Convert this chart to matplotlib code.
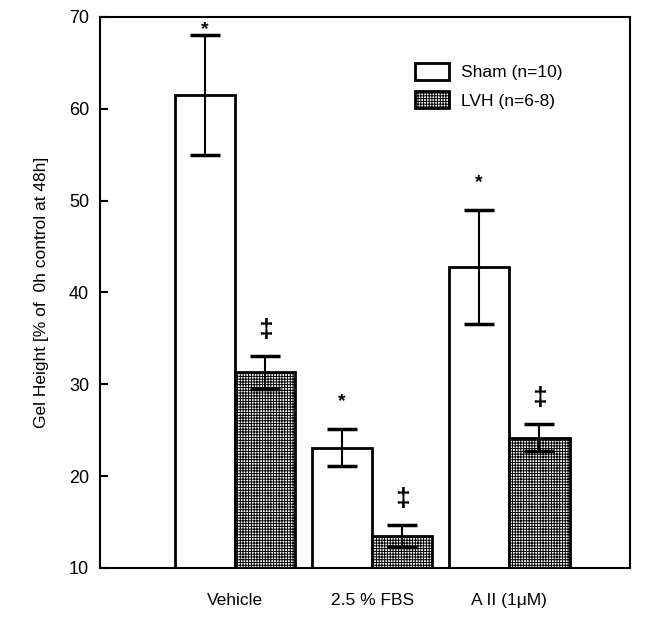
import numpy as np
import matplotlib.pyplot as plt

plt.rcParams['font.family'] = ['Liberation Sans', 'DejaVu Sans']
plt.rcParams['hatch.linewidth'] = 0.7

groups = ["Vehicle", "2.5 % FBS", "A II (1\u03bcM)"]
sham = [61.5, 23.1, 42.8]
sham_err = [6.5, 2.0, 6.2]
lvh = [31.3, 13.5, 24.2]
lvh_err = [1.8, 1.2, 1.5]
sham_mark = ["*", "*", "*"]
lvh_mark = ["\u2021", "\u2021", "\u2021"]

fig = plt.figure(figsize=(6.46, 6.18), dpi=100)
ax = fig.add_axes([0.155, 0.081, 0.82, 0.8915])

x = np.arange(len(groups))
w = 0.44

ax.bar(x - w / 2, sham, w, color="white", edgecolor="black",
       linewidth=2, label="Sham (n=10)", zorder=2)
ax.bar(x + w / 2, lvh, w, color="white", edgecolor="black", hatch="++++++",
       linewidth=2, label="LVH (n=6-8)", zorder=2)

ax.errorbar(x - w / 2, sham, yerr=sham_err, fmt="none", ecolor="black",
            elinewidth=1.5, capsize=11, capthick=2.5, zorder=3)
ax.errorbar(x + w / 2, lvh, yerr=lvh_err, fmt="none", ecolor="black",
            elinewidth=1.5, capsize=11, capthick=2.5, zorder=3)

# significance marks above the error bars (kept inside the frame)
for i in range(len(groups)):
    ys = min(sham[i] + sham_err[i] + 3.0, 68.6)
    ax.text(x[i] - w / 2, ys, sham_mark[i], ha="center", va="center",
            fontsize=14, fontweight="bold")
    ax.text(x[i] + w / 2, lvh[i] + lvh_err[i] + 2.8, lvh_mark[i],
            ha="center", va="center", fontsize=19, fontweight="bold")

ax.set_ylim(10, 70)
ax.set_xlim(-0.985, 2.88)
ax.set_yticks(range(10, 71, 10))
ax.tick_params(axis="y", direction="in", length=6, width=1.5, labelsize=13,
               pad=8)
ax.set_xticks(x)
ax.set_xticklabels(groups, fontsize=12.5)
ax.tick_params(axis="x", length=0, pad=18)
for s in ax.spines.values():
    s.set_linewidth(1.5)

ax.set_ylabel("Gel Height [% of  0h control at 48h]", fontsize=12.5,
              labelpad=14)

ax.legend(loc="upper left", bbox_to_anchor=(0.565, 0.945), frameon=False,
          fontsize=12.5, handlelength=1.95, handleheight=1.1,
          labelspacing=0.65, handletextpad=0.7)

fig.savefig("out.png", dpi=100)
